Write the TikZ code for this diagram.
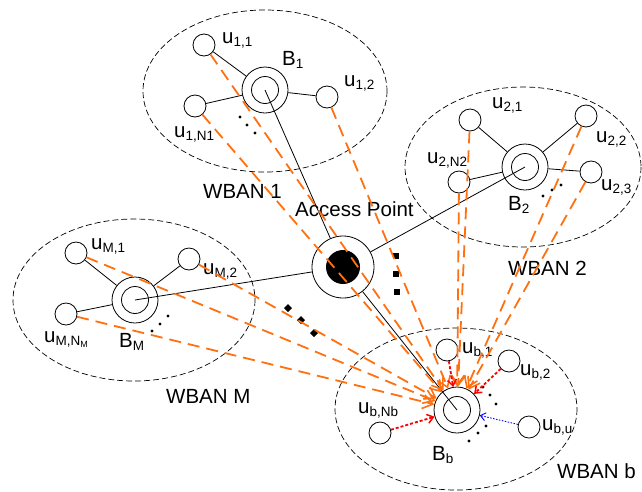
\documentclass[tikz,border=0pt]{standalone}
\usepackage{fontspec}
\setmainfont{Liberation Sans}
\usetikzlibrary{arrows.meta}
\definecolor{orng}{RGB}{255,112,16}
\newcommand{\lsub}[1]{\raisebox{-3pt}{\fontsize{13.5}{14}\selectfont #1}}
\newcommand{\llsub}[1]{\raisebox{-2pt}{\fontsize{9}{9}\selectfont #1}}
\begin{document}
\begin{tikzpicture}[x=1pt,y=-1pt, font=\fontsize{20.5}{24}\selectfont,
 wban/.style={draw, dash pattern=on 6pt off 3pt, line width=0.7pt},
 user/.style={circle, draw, line width=0.8pt, minimum size=22pt, inner sep=0pt},
 hub/.style={circle, draw, line width=0.8pt, minimum size=46pt, inner sep=0pt},
 ap/.style={circle, draw, line width=0.8pt, minimum size=62pt, inner sep=0pt},
 lbl/.style={anchor=base west, inner sep=0pt},
 link/.style={line width=0.8pt},
 oarrow/.style={draw=orng, line width=1.8pt, dash pattern=on 12pt off 7pt, -{Straight Barb[length=10pt,width=14pt,line width=1.6pt]}},
 rarrow/.style={draw=red, line width=1.8pt, dash pattern=on 3pt off 2pt, -{Straight Barb[length=6pt,width=9pt,line width=1.5pt]}},
 barrow/.style={draw=blue, line width=0.9pt, dash pattern=on 1.5pt off 1.5pt, -{Straight Barb[length=5pt,width=8pt,line width=0.9pt]}},
 dotmark/.style={fill=black}
]
\useasboundingbox (0,0) rectangle (642,491);

% WBAN ellipses
\draw[wban] (265,91) ellipse [x radius=122, y radius=81];
\draw[wban] (523,167) ellipse [x radius=118, y radius=80];
\draw[wban] (134,300) ellipse [x radius=121, y radius=81];
\draw[wban] (456,409) ellipse [x radius=121, y radius=81];

% hubs
\node[hub] (B1) at (265,90) {};
\node[hub] (B2) at (525,167) {};
\node[hub] (BM) at (135,300) {};
\node[hub] (Bb) at (457,410) {};
\foreach \h in {B1,B2,BM,Bb} \draw[link] (\h.center) circle (13.5);

% access point
\node[ap] (AP) at (343,267) {};
\fill (AP.center) circle (17);

% users
\node[user] (u11) at (204,45) {};
\node[user] (u12) at (327,97) {};
\node[user] (u1N) at (195,106) {};
\node[user] (u21) at (470,120) {};
\node[user] (u22) at (586,116) {};
\node[user] (u23) at (591,172) {};
\node[user] (u2N) at (459,182) {};
\node[user] (uM1) at (76,253) {};
\node[user] (uM2) at (189,259) {};
\node[user] (uMN) at (66,314) {};
\node[user] (ub1) at (447,350) {};
\node[user] (ub2) at (509,361) {};
\node[user] (ubu) at (529,427) {};
\node[user] (ubN) at (380,433) {};

% user-hub links
\foreach \u in {u11,u12,u1N} \draw[link] (\u) -- (B1);
\foreach \u in {u21,u22,u23,u2N} \draw[link] (\u) -- (B2);
\foreach \u in {uM1,uM2,uMN} \draw[link] (\u) -- (BM);

% hub-AP links
\foreach \h in {B1,B2,BM,Bb} \draw[link] (\h.center) -- (AP);

% labels
\node[lbl] (l11) at (222,43) {u\lsub{1,1}};
\node[lbl] (lB1) at (282,65) {B\lsub{1}};
\node[lbl] (l12) at (344,86) {u\lsub{1,2}};
\node[lbl] (l1N) at (174,137) {u\lsub{1,N1}};
\node[lbl] (w1) at (203,198) {WBAN 1};
\node[lbl] (lap) at (295,216) {Access Point};
\node[lbl] (l21) at (492,108) {u\lsub{2,1}};
\node[lbl] (l22) at (596,142) {u\lsub{2,2}};
\node[lbl] (l23) at (601,190) {u\lsub{2,3}};
\node[lbl] (l2N) at (427,163) {u\lsub{2,N2}};
\node[lbl] (lB2) at (508,210) {B\lsub{2}};
\node[lbl] (w2) at (508,275) {WBAN 2};
\node[lbl] (lM1) at (91,249) {u\lsub{M,1}};
\node[lbl] (lM2) at (203,274) {u\lsub{M,2}};
\node[lbl] (lMN) at (44,342) {u\lsub{M,N\llsub{M}}};
\node[lbl] (lBM) at (119,347) {B\lsub{M}};
\node[lbl] (wM) at (166,403) {WBAN M};
\node[lbl] (lb1) at (462,353) {u\lsub{b,1}};
\node[lbl] (lb2) at (520,375) {u\lsub{b,2}};
\node[lbl] (lbu) at (542,430) {u\lsub{b,u}};
\node[lbl] (lbN) at (358,413) {u\lsub{b,Nb}};
\node[lbl] (lBb) at (432,460) {B\lsub{b}};
\node[lbl] (wb) at (557,478) {WBAN b};

% ellipsis dots
\foreach \p in {(240,117),(247,125),(255,133),
                (543,196),(552,190),(561,185),
                (152,331),(160,324),(168,316),
                (483,387),(490,395),(496,404),
                (486,426),(478,433),(469,441)}
  \fill[dotmark] \p circle (1.6);
\foreach \p in {(396,256),(396,274),(397,292)}
  \fill[dotmark] \p ++(-2.6,-2.6) rectangle ++(5.2,5.2);
\foreach \p in {(288,308),(301,320),(314,333)}
  \fill[dotmark] \p ++(0,-4) -- ++(4,4) -- ++(-4,4) -- ++(-4,-4) -- cycle;

% orange dashed arrows to B_b
\foreach \u in {u11,u12,u1N,u21,u22,u23,u2N,uM1,uM2,uMN}
  \draw[oarrow] (\u) -- (Bb);

% intra-WBAN b arrows
\draw[rarrow] (ub1) -- (Bb);
\draw[rarrow] (ub2) -- (Bb);
\draw[rarrow] (ubN) -- (Bb);
\draw[barrow] (ubu) -- (Bb);
\end{tikzpicture}
\end{document}
